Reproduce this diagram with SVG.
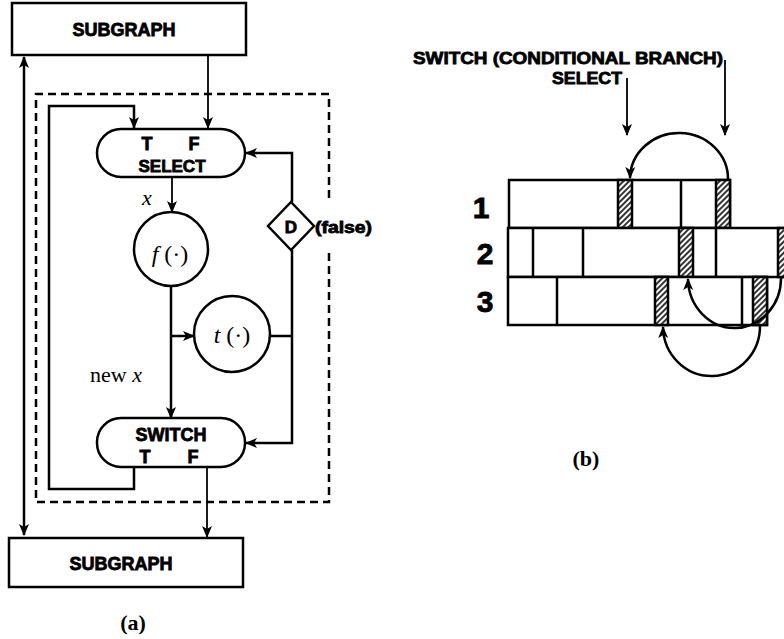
<svg xmlns="http://www.w3.org/2000/svg" width="784" height="639" viewBox="0 0 784 639">
<style>
.bx{fill:#fff;stroke:#000;stroke-width:2.5}
.ln{fill:none;stroke:#000;stroke-width:2.5}
.th{fill:none;stroke:#000;stroke-width:1.8}
.dash{fill:none;stroke:#000;stroke-width:2.5;stroke-dasharray:8 5}
.h{font-family:"Liberation Sans",Arial,sans-serif;font-weight:bold;fill:#000;stroke:#000;stroke-width:0.8}
.s{font-family:"Liberation Serif","Times New Roman",serif;fill:#000}
.hat{fill:url(#hatch);stroke:#000;stroke-width:2.5}
</style>
<defs>
<marker id="ar" markerUnits="userSpaceOnUse" markerWidth="12" markerHeight="12" viewBox="0 0 12 12" refX="11" refY="6" orient="auto">
<path d="M0,1 L12,6 L0,11 L3,6 Z" fill="#000"/>
</marker>
<marker id="ars" markerUnits="userSpaceOnUse" markerWidth="12" markerHeight="12" viewBox="0 0 12 12" refX="1" refY="6" orient="auto">
<path d="M12,1 L0,6 L12,11 L9,6 Z" fill="#000"/>
</marker>
<pattern id="hatch" patternUnits="userSpaceOnUse" width="4" height="4" patternTransform="rotate(45)">
<rect width="4" height="4" fill="#fff"/>
<line x1="1" y1="0" x2="1" y2="4" stroke="#000" stroke-width="1.6"/>
</pattern>
</defs>

<!-- (a) -->
<path class="dash" d="M329,198 L329,94 L36,94 L36,502 L329,502 L329,252"/>

<g id="connectors">
<path class="ln" d="M24,57 L24,535" marker-start="url(#ars)" marker-end="url(#ar)"/>
<path class="th" d="M208,55 L208,128" marker-end="url(#ar)"/>
<path class="ln" d="M134,467 L134,489 L49,489 L49,106 L134,106 L134,128" marker-end="url(#ar)"/>
<path class="th" d="M172,178 L172,212" marker-end="url(#ar)"/>
<path class="ln" d="M171,287 L171,418" marker-end="url(#ar)"/>
<path class="ln" d="M171,336 L194,336" marker-end="url(#ar)"/>
<path class="ln" d="M270,336 L292,336"/>
<path class="ln" d="M292,250 L292,443 L246,443" marker-end="url(#ar)"/>
<path class="ln" d="M292,202 L292,153 L246,153" marker-end="url(#ar)"/>
<path class="th" d="M207,467 L207,537" marker-end="url(#ar)"/>
</g>

<g id="subgraph-top">
<rect class="bx" x="12" y="3" width="234" height="52"/>
<text class="h" x="124" y="36" font-size="18" text-anchor="middle">SUBGRAPH</text>
</g>
<g id="select">
<rect class="bx" x="97" y="129" width="148" height="48" rx="24"/>
<text class="h" x="147" y="150" font-size="18" text-anchor="middle">T</text>
<text class="h" x="194" y="150" font-size="18" text-anchor="middle">F</text>
<text class="h" x="172" y="172" font-size="17" text-anchor="middle">SELECT</text>
</g>
<text class="s" x="147" y="205" font-size="22" font-style="italic" text-anchor="middle">x</text>
<g id="f">
<circle class="bx" cx="171" cy="249" r="37"/>
<text class="s" x="170" y="262" font-size="24" text-anchor="middle"><tspan font-style="italic">f</tspan> (·)</text>
</g>
<g id="t">
<circle class="bx" cx="232" cy="334" r="38"/>
<text class="s" x="232" y="343" font-size="24" text-anchor="middle"><tspan font-style="italic">t</tspan> (·)</text>
</g>
<g id="d">
<polygon class="bx" points="291,202 314,226 291,250 268,226"/>
<text class="h" x="291" y="233" font-size="17" text-anchor="middle">D</text>
<text class="h" x="315" y="233" font-size="16" textLength="57" lengthAdjust="spacingAndGlyphs">(false)</text>
</g>
<text class="s" x="90" y="382" font-size="22">new <tspan font-style="italic">x</tspan></text>
<g id="switch">
<rect class="bx" x="97" y="418" width="148" height="49" rx="24"/>
<text class="h" x="171" y="441" font-size="18" text-anchor="middle">SWITCH</text>
<text class="h" x="145" y="463" font-size="18" text-anchor="middle">T</text>
<text class="h" x="193" y="463" font-size="18" text-anchor="middle">F</text>
</g>
<g id="subgraph-bottom">
<rect class="bx" x="9" y="538" width="234" height="49"/>
<text class="h" x="121" y="570" font-size="18" text-anchor="middle">SUBGRAPH</text>
</g>
<text class="s" x="133" y="630" font-size="22" font-weight="bold" text-anchor="middle">(a)</text>

<!-- (b) -->
<text class="h" x="413" y="64" font-size="17" textLength="310" lengthAdjust="spacingAndGlyphs">SWITCH (CONDITIONAL BRANCH)</text>
<text class="h" x="552" y="84" font-size="17" textLength="70" lengthAdjust="spacingAndGlyphs">SELECT</text>

<g id="row1">
<rect class="bx" x="509" y="180" width="221" height="48"/>
<line class="ln" x1="681" y1="180" x2="681" y2="228"/>
<rect class="hat" x="618" y="180" width="14" height="48"/>
<rect class="hat" x="716" y="180" width="14" height="48"/>
</g>
<g id="row2">
<rect class="bx" x="508" y="228" width="290" height="49"/>
<line class="ln" x1="533" y1="228" x2="533" y2="277"/>
<line class="ln" x1="583" y1="228" x2="583" y2="277"/>
<line class="ln" x1="716" y1="228" x2="716" y2="277"/>
<rect class="hat" x="679" y="228" width="14" height="49"/>
<rect class="hat" x="778" y="228" width="14" height="49"/>
</g>
<g id="row3">
<rect class="bx" x="508" y="277" width="259" height="48"/>
<line class="ln" x1="557" y1="277" x2="557" y2="325"/>
<line class="ln" x1="742" y1="277" x2="742" y2="325"/>
<rect class="hat" x="655" y="277" width="13" height="48"/>
<rect class="hat" x="753" y="277" width="14" height="48"/>
</g>
<text class="h" x="481" y="218" font-size="30" text-anchor="middle">1</text>
<text class="h" x="485" y="264" font-size="30" text-anchor="middle">2</text>
<text class="h" x="485" y="312" font-size="30" text-anchor="middle">3</text>

<g id="connectors-b">
<path class="th" d="M627,78 L627,135" marker-end="url(#ar)"/>
<path class="th" d="M725,60 L725,135" marker-end="url(#ar)"/>
<path class="ln" d="M728,180 A49,46 0 0 0 630,178" marker-end="url(#ar)"/>
<path class="ln" d="M781,277 A46.5,50 0 0 1 688,279" marker-end="url(#ar)"/>
<path class="ln" d="M760,325 A48.5,50 0 0 1 663,327" marker-end="url(#ar)"/>
</g>
<text class="s" x="586" y="466" font-size="22" font-weight="bold" text-anchor="middle">(b)</text>
</svg>
